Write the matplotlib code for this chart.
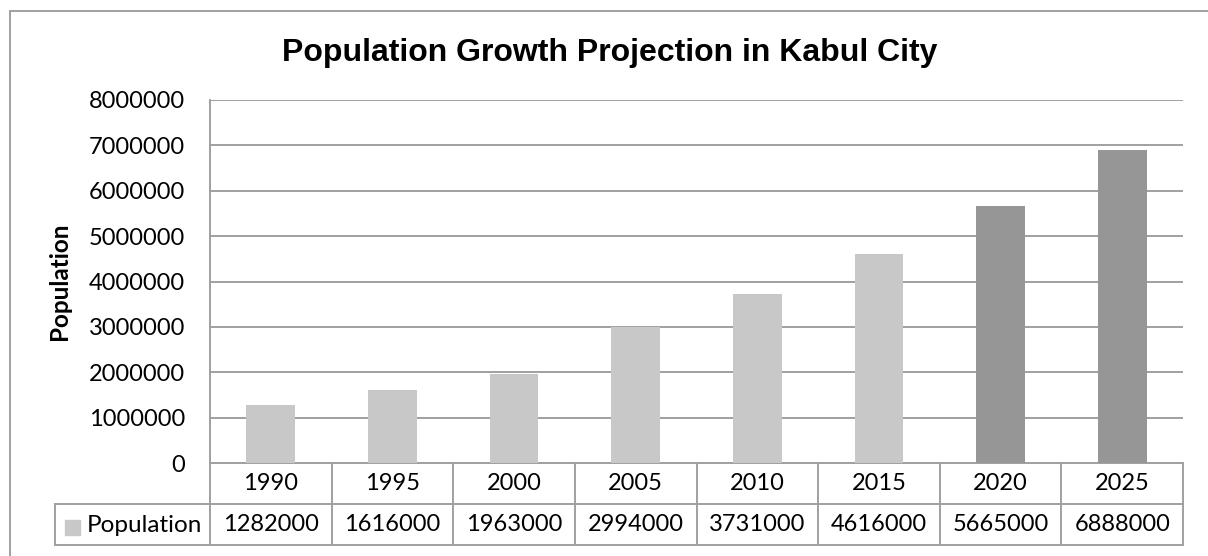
import matplotlib.pyplot as plt
import matplotlib.transforms as mtransforms
from matplotlib.patches import Rectangle

years = ["1990", "1995", "2000", "2005", "2010", "2015", "2020", "2025"]
population = [1282000, 1616000, 1963000, 2994000, 3731000, 4616000, 5665000, 6888000]
projected = [False, False, False, False, False, False, True, True]
series_name = "Population"

light = "#c8c8c8"
dark = "#969696"
line_col = "#a0a0a0"
num_font = "Lato"
fs = 17

W, H = 1208, 556
fig = plt.figure(figsize=(W / 100, H / 100), dpi=100)

# plot area in pixel terms
L, R, T, B = 210, 1183, 100, 463
ax = fig.add_axes([L / W, 1 - B / H, (R - L) / W, (B - T) / H])

x = list(range(len(years)))
cols = [dark if p else light for p in projected]
ax.bar(x, population, width=0.4, color=cols, zorder=3)

ax.set_xlim(-0.5, len(years) - 0.5)
ax.set_ylim(0, 8000000)
ax.set_yticks(range(0, 8000001, 1000000))
ax.set_yticklabels([str(v) for v in range(0, 8000001, 1000000)],
                   fontfamily=num_font, fontsize=fs)
ax.tick_params(axis="y", length=0, pad=18)
ax.set_xticks([])
ax.grid(axis="y", color=line_col, linewidth=1.4, zorder=0)
for s in ["top", "right", "bottom"]:
    ax.spines[s].set_visible(False)
ax.spines["left"].set_color(line_col)
ax.spines["left"].set_linewidth(1.4)

ax.set_ylabel("Population", fontfamily=num_font, fontweight="bold",
              fontsize=17.5, labelpad=0)
ax.yaxis.set_label_coords((71 - L) / (R - L), 0.5)

# data table under the axis
ph = B - T
row1 = -41 / ph
row2 = -82 / ph
left_hdr = -0.5 - (L - 55) / ((R - L) / len(years))
tr = mtransforms.blended_transform_factory(ax.transData, ax.transAxes)
kw = dict(transform=tr, color=line_col, linewidth=1.4, clip_on=False)
ax.plot([-0.5, len(years) - 0.5], [0, 0], **kw)
ax.plot([left_hdr, len(years) - 0.5], [row1, row1], **kw)
ax.plot([left_hdr, len(years) - 0.5], [row2, row2], **kw)
ax.plot([left_hdr, left_hdr], [row1, row2], **kw)
for i in range(len(years) + 1):
    ax.plot([i - 0.5, i - 0.5], [0, row2], **kw)

for i, (yr, v) in enumerate(zip(years, population)):
    ax.text(i, row1 / 2, yr, transform=tr, ha="center", va="center",
            fontfamily=num_font, fontsize=fs)
    ax.text(i, (row1 + row2) / 2, str(v), transform=tr, ha="center",
            va="center", fontfamily=num_font, fontsize=fs)

fig.patches.append(Rectangle((65 / W, 1 - 535 / H), 15 / W, 15 / H,
                             transform=fig.transFigure, color=light))
fig.text(87 / W, 1 - 525 / H, series_name, ha="left", va="center",
         fontfamily=num_font, fontsize=17.5)

# title
fig.text(610 / W, 1 - 61 / H, "Population Growth Projection in Kabul City",
         ha="center", va="baseline", fontfamily="Liberation Sans",
         fontweight="bold", fontsize=23)

# chart border (cut off at the right and bottom)
fig.patches.append(Rectangle((10 / W, -0.1), 1.2, 1 - 11 / H + 0.1,
                             transform=fig.transFigure, fill=False,
                             edgecolor=line_col, linewidth=1.4))

fig.savefig("out.png", dpi=100)
